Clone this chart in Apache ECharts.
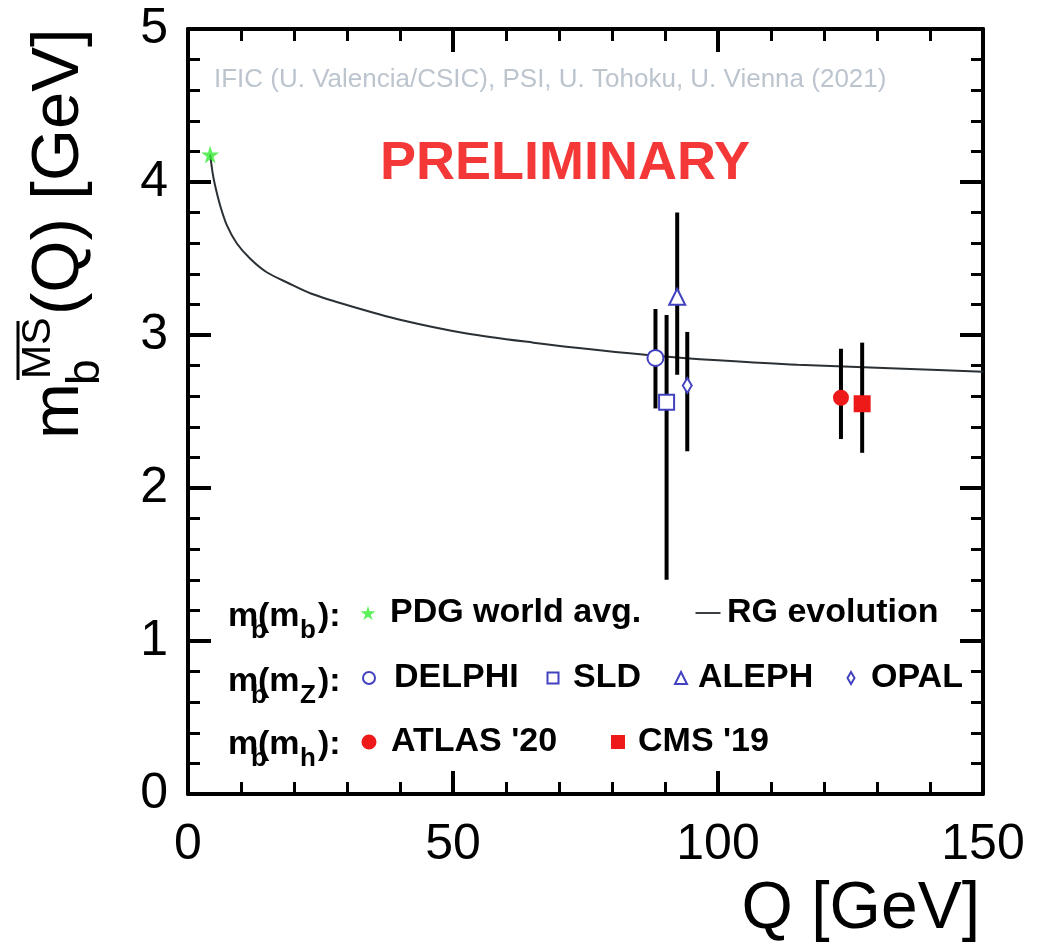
<!DOCTYPE html>
<html>
<head>
<meta charset="utf-8">
<script src="https://cdn.jsdelivr.net/npm/echarts@6/dist/echarts.min.js"></script>
<style>
  html, body { margin: 0; padding: 0; background: #fff; }
  #chart { width: 1043px; height: 944px; }
</style>
</head>
<body>
<div id="chart"></div>
<script>
// RG evolution curve
var rgQ = [4.18, 4.6, 5.09, 6.04, 7.3, 9.19, 11.7, 14.85, 18.9, 23.3, 30.6, 40, 52.6, 65.2, 77.7, 88, 100, 115, 135, 150];
var rgM = [4.18, 4.07, 3.98, 3.85, 3.72, 3.60, 3.50, 3.41, 3.34, 3.27, 3.19, 3.10, 3.01, 2.95, 2.90, 2.865, 2.835, 2.805, 2.78, 2.76];

// PDG world average m_b(m_b)
var pdgQ = 4.18;
var pdgM = 4.18;

// measurements (points shifted in Q for readability, as in the plot)
var expNames = ['DELPHI', 'SLD', 'ALEPH', 'OPAL', "ATLAS '20", "CMS '19"];
var expQ  = [88.2, 90.3, 92.3, 94.2, 123.2, 127.2];
var expM  = [2.85, 2.56, 3.25, 2.67, 2.59, 2.55];
var expLo = [2.52, 1.40, 2.74, 2.24, 2.32, 2.23];
var expHi = [3.17, 3.13, 3.80, 3.02, 2.91, 2.95];

var FONT = '"Liberation Sans", Arial, sans-serif';
var BLUE = '#4242c0';
var RED = '#ee1a1a';
var STAR = 'path://M50,0 L61,35 L98,35 L68,57 L79,91 L50,70 L21,91 L32,57 L2,35 L39,35 Z';

var myChart = echarts.init(document.getElementById('chart'));

var curveData = rgQ.map(function (q, i) { return [q, rgM[i]]; });
var barData = expQ.map(function (q, i) { return [q, expLo[i], expHi[i]]; });

var markers = [
    {symbol: 'circle', size: 16, fill: '#fff', stroke: BLUE},
    {symbol: 'rect', size: 15, fill: '#fff', stroke: BLUE},
    {symbol: 'triangle', size: 16, fill: '#fff', stroke: BLUE},
    {symbol: 'diamond', size: [9, 15], fill: '#fff', stroke: BLUE},
    {symbol: 'circle', size: 14, fill: RED, stroke: RED},
    {symbol: 'rect', size: 15, fill: RED, stroke: RED}
];

var series = [
    {
        name: 'RG evolution',
        type: 'line',
        data: curveData,
        smooth: 0.3,
        symbol: 'none',
        lineStyle: {color: '#2b3034', width: 2},
        itemStyle: {color: '#3a3f44'},
        z: 2
    },
    {
        name: 'errors',
        type: 'custom',
        data: barData,
        encode: {x: 0, y: [1, 2]},
        renderItem: function (params, api) {
            var p1 = api.coord([api.value(0), api.value(1)]);
            var p2 = api.coord([api.value(0), api.value(2)]);
            return {
                type: 'line',
                shape: {x1: p1[0], y1: p1[1], x2: p2[0], y2: p2[1]},
                style: {stroke: '#000', lineWidth: 4}
            };
        },
        z: 3
    },
    {
        name: 'PDG world avg.',
        type: 'scatter',
        data: [[pdgQ, pdgM]],
        symbol: STAR,
        symbolSize: 18,
        itemStyle: {color: '#33ee33'},
        z: 5
    }
];

expNames.forEach(function (name, i) {
    var mk = markers[i];
    series.push({
        name: name,
        type: 'scatter',
        data: [[expQ[i], expM[i]]],
        symbol: mk.symbol,
        symbolSize: mk.size,
        itemStyle: {color: mk.fill, borderColor: mk.stroke, borderWidth: 2, opacity: 1},
        z: 5
    });
});

// one legend per entry so each sits where it does in the plot
function legendItem(name, cx, textX, rowY, w, h, icon) {
    var item = {
        data: [icon ? {name: name, icon: icon} : name],
        left: cx - w / 2,
        top: rowY - 20,
        padding: 0,
        itemWidth: w,
        itemHeight: h,
        selectedMode: false,
        textStyle: {
            fontFamily: FONT, fontSize: 34, fontWeight: 'bold', color: '#000',
            lineHeight: 40, padding: [0, 0, 0, textX - (cx + w / 2) - 5]
        }
    };
    if (icon) item.symbolKeepAspect = false;
    return item;
}

var row1 = 613, row2 = 678, row3 = 742;
var legends = [
    legendItem('PDG world avg.', 368, 390, row1, 15, 15),
    legendItem('RG evolution', 708, 727, row1, 25, 2, 'rect'),
    legendItem('DELPHI', 368, 393, row2, 12, 12),
    legendItem('SLD', 552, 572, row2, 11, 11),
    legendItem('ALEPH', 680, 697, row2, 12, 12),
    legendItem('OPAL', 850, 870, row2, 7, 12),
    legendItem("ATLAS '20", 368, 390, row3, 13, 13),
    legendItem("CMS '19", 617, 637, row3, 12, 12)
];

// "m_b(m_x):" row labels
function rowLabel(baseY, sub) {
    var big = 'bold 34px ' + FONT;
    var small = 'bold 26px ' + FONT;
    function t(x, y, s, f) {
        return {type: 'text', x: x, y: y, style: {text: s, font: f, fill: '#000', textAlign: 'left', textVerticalAlign: 'bottom'}};
    }
    var d = 7; // descent of 34px text
    return [
        t(228, baseY + d, 'm', big),
        t(251, baseY + 12 + 5, 'b', small),
        t(258, baseY + d, '(m', big),
        t(300, baseY + 12 + 5, sub, small),
        t(318, baseY + d, '):', big)
    ];
}

var yTitle = {
    type: 'group',
    x: 84,
    y: 442,
    rotation: Math.PI / 2,
    children: [
        {type: 'text', x: 3, y: -24, style: {text: 'm', font: '67px ' + FONT, fill: '#000', textVerticalAlign: 'middle'}},
        {type: 'text', x: 57, y: 2, style: {text: 'b', font: '46px ' + FONT, fill: '#000', textVerticalAlign: 'middle'}},
        {type: 'text', x: 63, y: -45, style: {text: 'MS', font: '41px ' + FONT, fill: '#000', textVerticalAlign: 'middle'}},
        {type: 'line', shape: {x1: 62, y1: -66, x2: 121, y2: -66}, style: {stroke: '#000', lineWidth: 3}},
        {type: 'text', x: 127, y: -24, style: {text: '(Q) [GeV]', font: '67px ' + FONT, fill: '#000', textVerticalAlign: 'middle'}}
    ]
};

var graphics = [
    yTitle,
    {type: 'text', x: 980, y: 910, style: {text: 'Q [GeV]', font: '66px ' + FONT, fill: '#000', textAlign: 'right', textVerticalAlign: 'middle'}},
    {type: 'text', x: 214, y: 80, style: {text: 'IFIC (U. Valencia/CSIC), PSI, U. Tohoku, U. Vienna (2021)', font: '26px ' + FONT, fill: '#bcc5ce', textVerticalAlign: 'middle'}},
    {type: 'text', x: 380, y: 164, style: {text: 'PRELIMINARY', font: 'bold 54px ' + FONT, fill: '#f43838', textVerticalAlign: 'middle'}}
].concat(rowLabel(627, 'b'), rowLabel(692, 'Z'), rowLabel(755, 'h'));

function axisCommon(showLabel) {
    return {
        type: 'value',
        axisLine: {show: true, onZero: false, lineStyle: {color: '#000', width: 4}},
        axisTick: {show: true, inside: true, length: 23, lineStyle: {color: '#000', width: 4}},
        minorTick: {show: true, splitNumber: 5, length: 12, lineStyle: {color: '#000', width: 3}},
        splitLine: {show: false},
        axisLabel: {show: showLabel, fontFamily: FONT, fontSize: 50, color: '#000'}
    };
}

var xBottom = axisCommon(true);
xBottom.min = 0; xBottom.max = 150; xBottom.interval = 50; xBottom.position = 'bottom';
xBottom.axisLabel.margin = 26;
var xTop = axisCommon(false);
xTop.min = 0; xTop.max = 150; xTop.interval = 50; xTop.position = 'top';
var yLeft = axisCommon(true);
yLeft.min = 0; yLeft.max = 5; yLeft.interval = 1; yLeft.position = 'left';
yLeft.axisLabel.margin = 20;
var yRight = axisCommon(false);
yRight.min = 0; yRight.max = 5; yRight.interval = 1; yRight.position = 'right';

var option = {
    backgroundColor: '#fff',
    animation: false,
    grid: {left: 188, right: 60, top: 29, bottom: 150, containLabel: false},
    xAxis: [xBottom, xTop],
    yAxis: [yLeft, yRight],
    legend: legends,
    graphic: graphics,
    series: series
};

myChart.setOption(option);
</script>
</body>
</html>
